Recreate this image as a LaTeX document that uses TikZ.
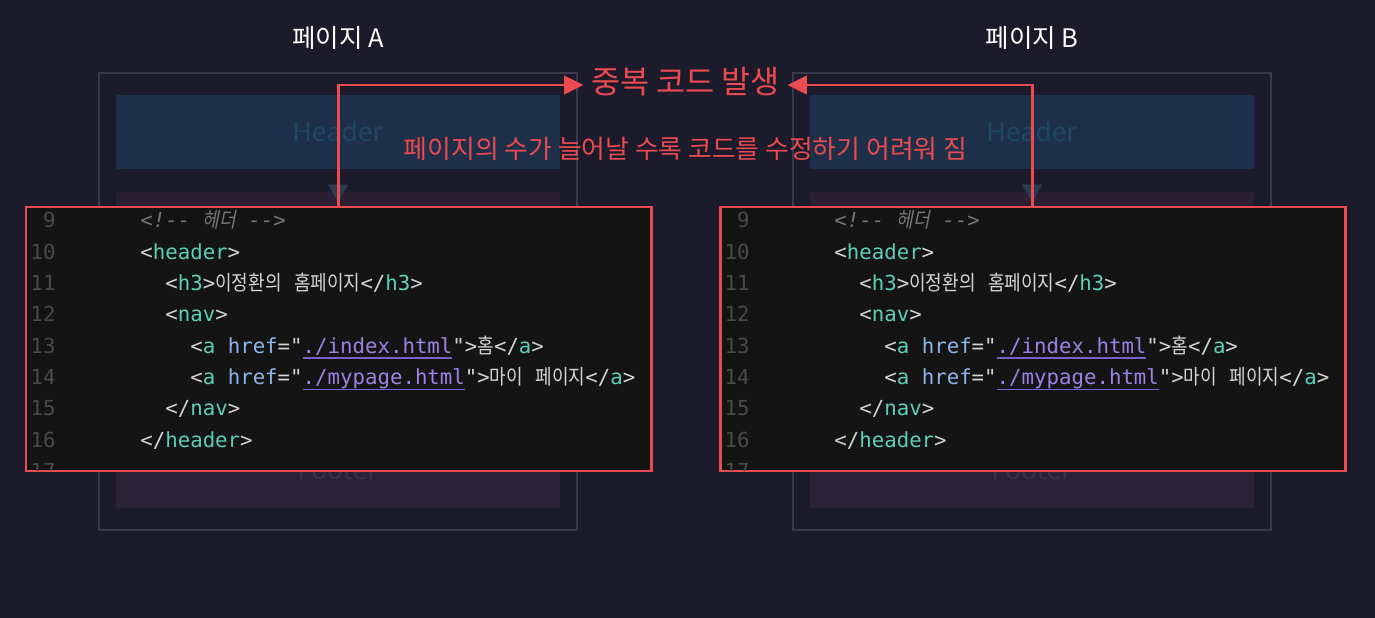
\documentclass[tikz,border=0pt]{standalone}
\usepackage{fontspec}
\usepackage{tikz}
\usetikzlibrary{arrows.meta, positioning, fit}
\setmainfont{Noto Sans CJK KR}
\newfontfamily\uifont{Noto Sans}
\newfontfamily\codefont{DejaVu Sans Mono}
\newfontfamily\krcode[FakeStretch=0.87]{Noto Sans CJK KR}
\newfontfamily\krcodeit[FakeStretch=0.87,FakeSlant=0.2]{Noto Sans CJK KR}

\definecolor{bgnavy}{HTML}{1C1B2B}
\definecolor{framegray}{HTML}{3A3A4C}
\definecolor{hdfill}{HTML}{1E3049}
\definecolor{hdtext}{HTML}{1F4766}
\definecolor{mainfill}{HTML}{2A2032}
\definecolor{ftfill}{HTML}{2A2338}
\definecolor{fttext}{HTML}{3A3050}
\definecolor{flowgray}{HTML}{2D3B55}
\definecolor{codebg}{HTML}{141414}
\definecolor{alertred}{HTML}{EB4A50}
\definecolor{numgray}{HTML}{4A4A4A}
\definecolor{cmtgray}{HTML}{767676}
\definecolor{punct}{HTML}{D4D4D4}
\definecolor{tagteal}{HTML}{5CCFB4}
\definecolor{attrblue}{HTML}{8DB6E8}
\definecolor{strpurple}{HTML}{9B82E6}
\definecolor{ulpurple}{HTML}{7B62C8}

% code colouring
\newcommand{\tg}[1]{\textcolor{tagteal}{#1}}
\newcommand{\attr}[1]{\textcolor{attrblue}{#1}}
\newcommand{\hkr}[1]{{\krcode #1}}
\newcommand{\hkrit}[1]{{\krcodeit #1}}
\newcommand{\strv}[1]{\setbox0=\hbox{#1}\rlap{\color{ulpurple}\rule[-3.4pt]{\wd0}{1pt}}\textcolor{strpurple}{\box0}}

\begin{document}
\begin{tikzpicture}[
  x=0.02cm, y=-0.02cm,
  title/.style={font=\fontsize{14.5}{16}\selectfont, text=white},
  pageframe/.style={draw=framegray, line width=1.1pt, inner sep=0pt},
  block/.style={inner sep=0pt, minimum width=8.88cm,
    font=\uifont\fontsize{15}{17}\selectfont},
  hdblock/.style={block, fill=hdfill, text=hdtext, minimum height=1.48cm},
  mnblock/.style={block, fill=mainfill, minimum height=4.56cm},
  ftblock/.style={block, fill=ftfill, text=fttext, minimum height=1.52cm},
  flow/.style={draw=flowgray, line width=1.1pt,
    -{Triangle[length=10pt,width=11pt]}, shorten >=-6pt},
  codebox/.style={fill=codebg, draw=alertred, line width=1.7pt, inner sep=0pt},
  code/.style={anchor=base west, inner sep=0pt, text=punct,
    font=\codefont\fontsize{11.8}{14}\selectfont},
  lnum/.style={anchor=base east, inner sep=0pt, text=numgray,
    font=\codefont\fontsize{11.8}{14}\selectfont},
  dupar/.style={draw=alertred, line width=1.7pt,
    -{Triangle[length=11pt,width=10.5pt]}},
  dupl/.style={font=\fontsize{18}{20}\selectfont, text=alertred,
    inner sep=4.2pt, text height=1.0em, text depth=0.08em},
  warn/.style={font=\fontsize{14.7}{16}\selectfont, text=alertred}
]
\useasboundingbox (0,0) rectangle (1375,618);
\fill[bgnavy] (0,0) rectangle (1375,618);

\foreach \p/\dx in {A/0,B/694}{
  \node[title] (tt\p) at (338+\dx,38) {페이지 \p};
  \node[pageframe, fit={(99+\dx,73) (577+\dx,530)}] (pg\p) {};
  \node[hdblock] (hd\p) at (338+\dx,132) {Header};
  \node[mnblock] (mn\p) at (338+\dx,306) {};
  \node[ftblock] (ft\p) at (338+\dx,470) {Footer};
  \draw[flow] (hd\p.south) -- (mn\p.north);

  % code snippet
  \node[codebox, fit={(26+\dx,207) (651+\dx,471)}] (code\p) {};
  \foreach \n [count=\i from 0] in {9,...,16}
    \node[lnum] (n\n\p) at (56+\dx,228+31.3*\i) {\n};
  \begin{scope}
    \clip (27+\dx,208) rectangle (650+\dx,470);
    \node[lnum] (n17\p) at (56+\dx,478.4) {17};
  \end{scope}
  \node[code, text=cmtgray] (c9\p) at (140+\dx,228)
    {\itshape <!-{}- \hkrit{헤더} -{}->};
  \node[code] (c10\p) at (140+\dx,259.3) {<\tg{header}>};
  \node[code] (c11\p) at (165+\dx,290.6)
    {<\tg{h3}>\hkr{이정환의} \hkr{홈페이지}</\tg{h3}>};
  \node[code] (c12\p) at (165+\dx,321.9) {<\tg{nav}>};
  \node[code] (c13\p) at (190+\dx,353.2)
    {<\tg{a} \attr{href}="\strv{./index.html}">\hkr{홈}</\tg{a}>};
  \node[code] (c14\p) at (190+\dx,384.5)
    {<\tg{a} \attr{href}="\strv{./mypage.html}">\hkr{마이} \hkr{페이지}</\tg{a}>};
  \node[code] (c15\p) at (165+\dx,415.8) {</\tg{nav}>};
  \node[code] (c16\p) at (140+\dx,447.1) {</\tg{header}>};
}

\node[dupl] (dup) at (685.5,85) {중복 코드 발생};
\node[warn] (note) at (685.5,149) {페이지의 수가 늘어날 수록 코드를 수정하기 어려워 짐};

\draw[dupar] (codeA.north) |- (dup.west);
\draw[dupar] (codeB.north) |- (dup.east);
\end{tikzpicture}
\end{document}
